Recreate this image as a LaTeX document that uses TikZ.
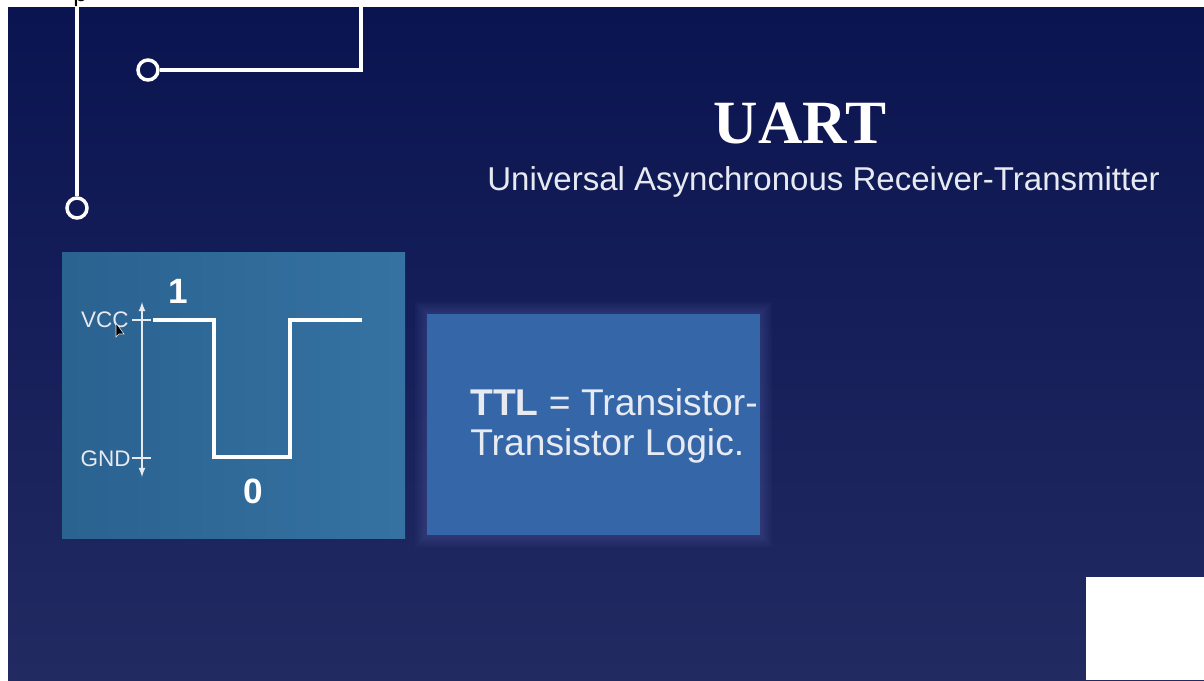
\documentclass[tikz,border=0pt]{standalone}
\usepackage{fontspec}
\setmainfont{Liberation Sans}
\newfontfamily\titlefont{Liberation Serif}
\usetikzlibrary{positioning,arrows.meta}

\definecolor{navytop}{HTML}{0A1450}
\definecolor{navybot}{HTML}{222A62}
\definecolor{panelleft}{HTML}{2A6290}
\definecolor{panelright}{HTML}{3572A2}
\definecolor{ttlblue}{HTML}{3566A8}
\definecolor{glow}{HTML}{6473BC}
\definecolor{softwhite}{HTML}{E8EAF2}

\begin{document}
\begin{tikzpicture}[>=latex,x=0.02cm,y=-0.02cm,
  wire/.style={white,line width=2pt},
  pin/.style={circle,draw=white,line width=2pt,minimum size=0.4cm,inner sep=0pt},
  level/.style={anchor=east,inner sep=0pt,text=softwhite,font=\fontsize{12.8}{14}\selectfont},
  bit/.style={text=white,font=\bfseries\fontsize{20}{22}\selectfont}]

\useasboundingbox (0,0) rectangle (1204,680);

% White frame and the navy background
\fill [white] (0,0) rectangle (1204,680);
\shade [top color=navytop,bottom color=navybot] (8,7) rectangle (1204,680);

% Cut-off text above the slide
\begin{scope}
  \clip (0,0) rectangle (1204,7);
  \node [anchor=base west,inner sep=0pt,font=\fontsize{14}{16}\selectfont] (cut) at (73,1) {p};
\end{scope}

% Circuit wires ending in pins
\node [pin] (pinA) at (148,70) {};
\node [pin] (pinB) at (77,208) {};
\coordinate (wireA) at (361,7);
\coordinate (wireB) at (77,7);
\draw [wire] (wireA) -- (361,70) -- (pinA);
\draw [wire] (wireB) -- (pinB);

% Title
\node [anchor=base,inner sep=0pt,text=white,font=\titlefont\bfseries\fontsize{35}{40}\selectfont] (title) at (800,143) {UART};
\node [anchor=base west,inner sep=0pt,text=softwhite,font=\fontsize{18.8}{22}\selectfont] (subtitle) at (487,190) {Universal Asynchronous Receiver-Transmitter};

% Signal levels panel
\shade [left color=panelleft,right color=panelright] (62,252) rectangle (405,538);
\coordinate (arrTop) at (142,302);
\coordinate (arrBot) at (142,477);
\draw [<->,softwhite,line width=0.8pt] (arrTop) -- (arrBot);
\foreach \y in {320,458} {
  \draw [softwhite,line width=0.8pt] (132,\y) -- (151,\y);
}
\node [level] (vcc) at (129,320) {VCC};
\node [level] (gnd) at (131,459) {GND};
\draw [white,line width=1.8pt] (153,320) -- (214,320) -- (214,457) -- (290,457) -- (290,320) -- (362,320);
\node [bit] (one) at (178,291) {1};
\node [bit] (zero) at (253,491) {0};

% Mouse pointer
\draw [fill=black,draw=softwhite,line width=0.3pt] (116,323) -- (116,337) -- (119,334) -- (124,334) -- cycle;

% TTL box with its glow
\foreach \g in {1,...,6} {
  \fill [glow,opacity=0.05] (427-\g*2,314-\g*2) rectangle (760+\g*2,535+\g*2);
}
\fill [ttlblue] (427,314) rectangle (760,535);
\node [anchor=base west,inner sep=0pt,align=left,text=softwhite,font=\fontsize{21.2}{22.7}\selectfont] (ttl) at (470,455)
  {\textbf{TTL} = Transistor-\\Transistor Logic.};

% White corner at the bottom right
\fill [white] (1086,577) rectangle (1204,680);

\end{tikzpicture}
\end{document}
